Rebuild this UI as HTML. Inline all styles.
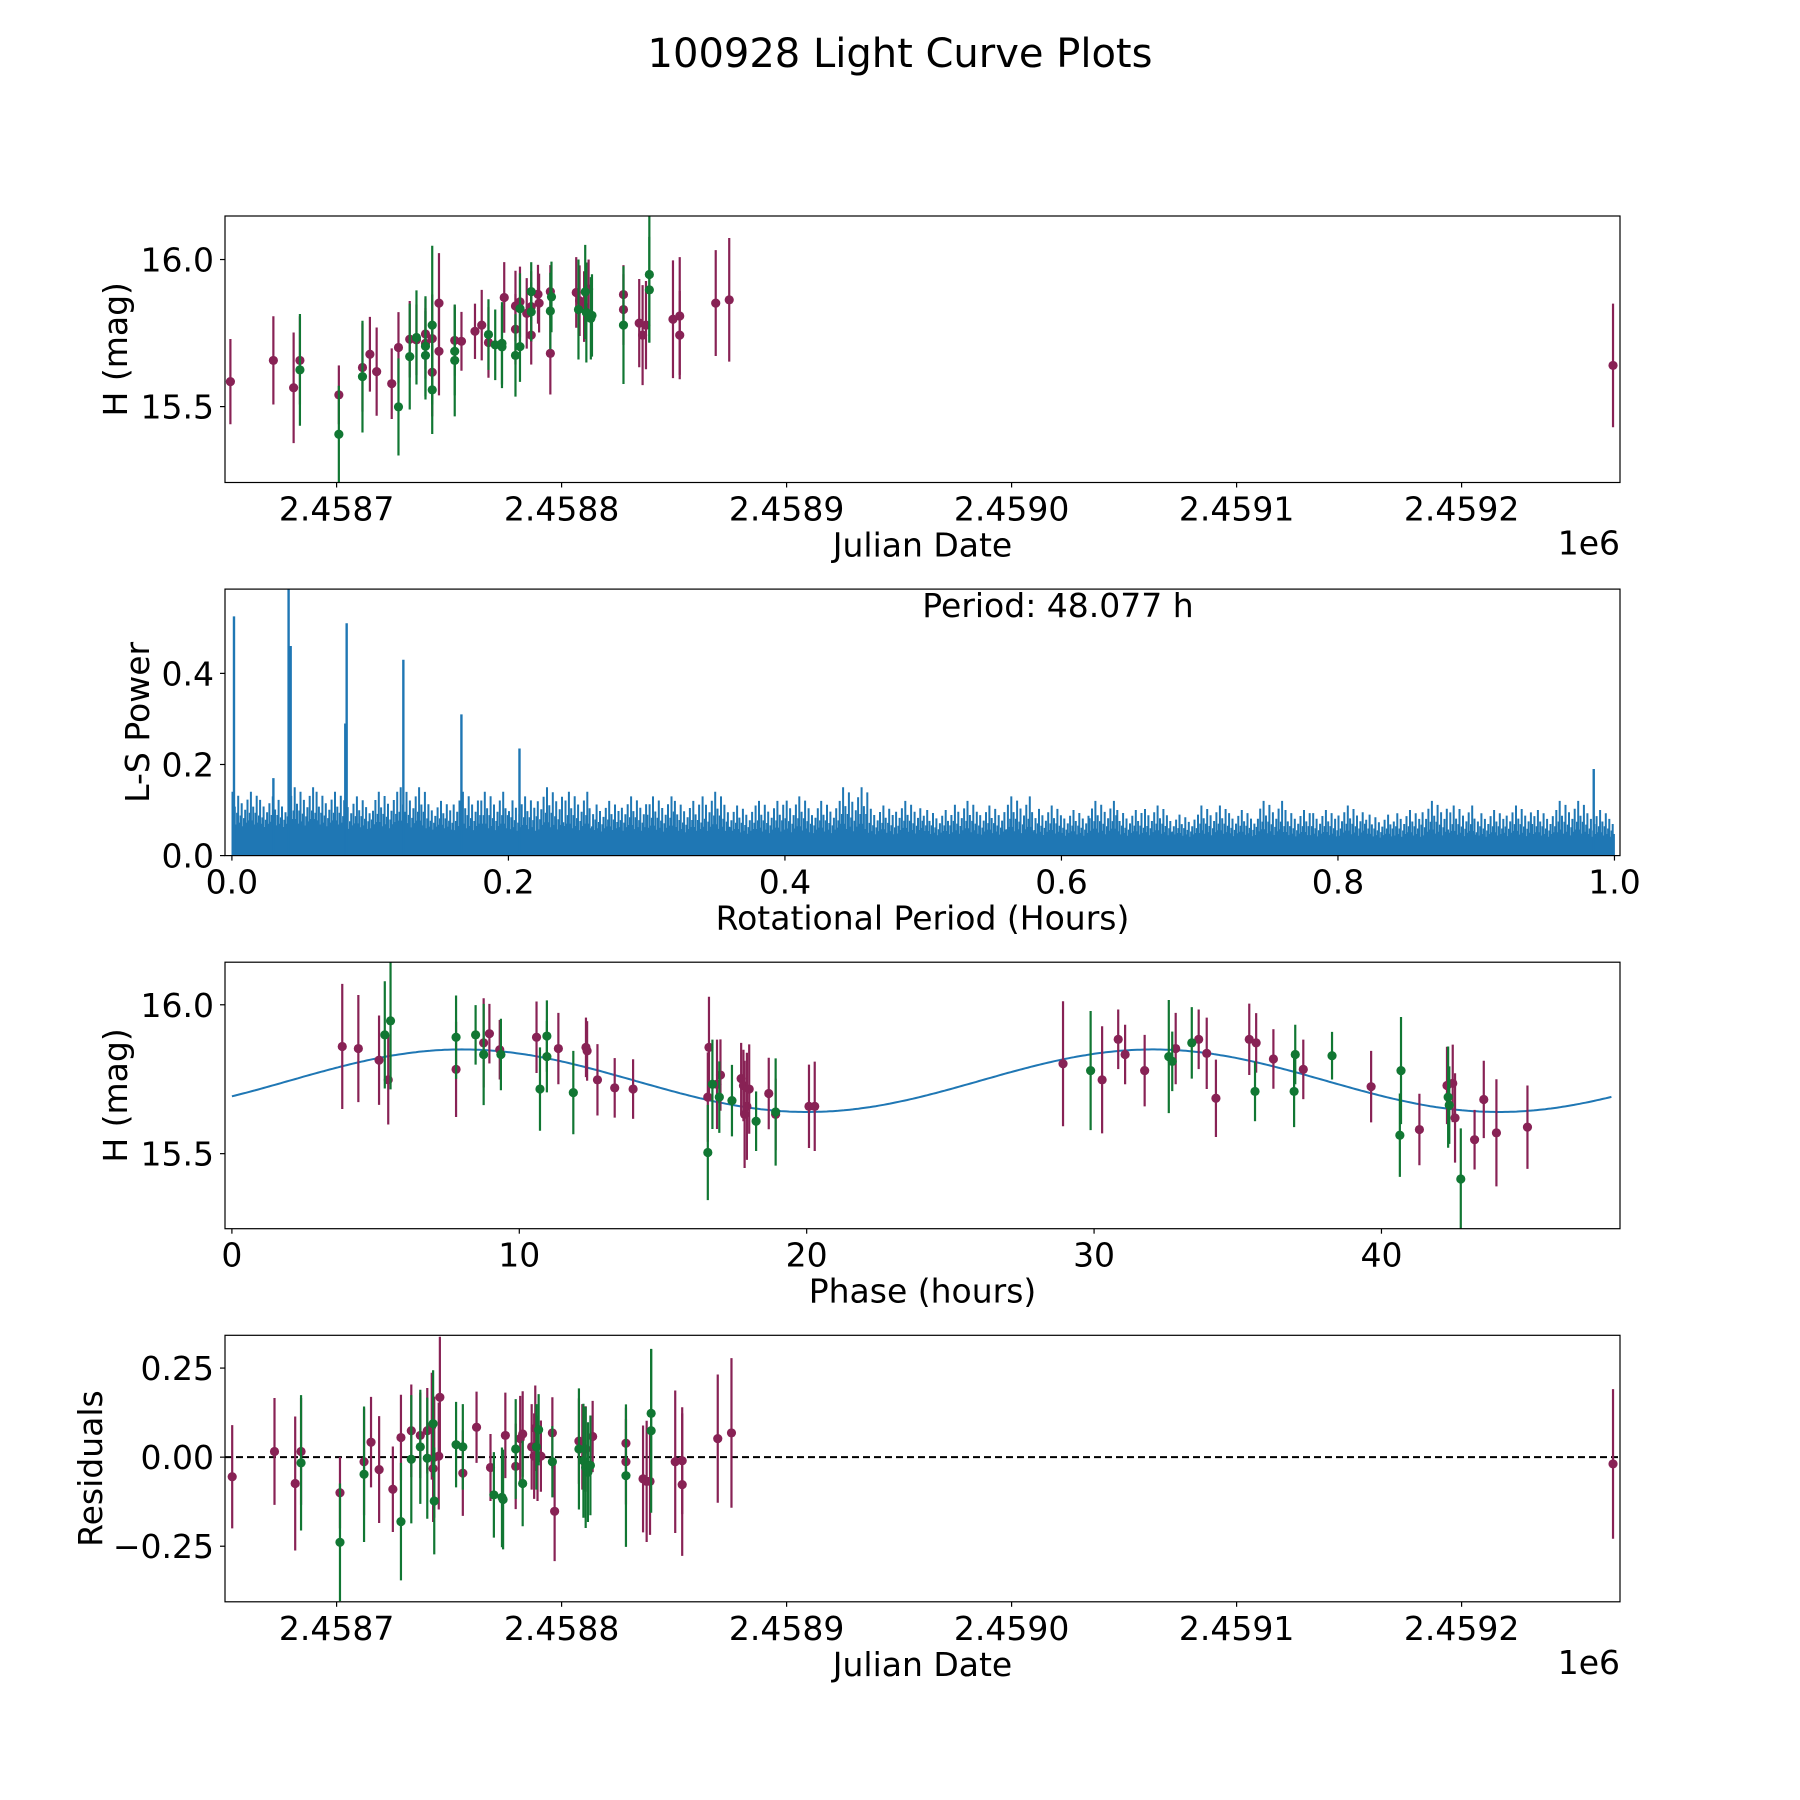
<!DOCTYPE html>
<html><head><meta charset="utf-8"><style>
html,body{margin:0;padding:0;background:#fff}
svg{display:block}
text{font-family:"DejaVu Sans","Liberation Sans",sans-serif;fill:#000}
</style></head><body>
<svg id="fig" width="1800" height="1800" viewBox="0 0 1800 1800" xmlns="http://www.w3.org/2000/svg">
<rect width="1800" height="1800" fill="#fff"/>
<text x="900" y="67" font-size="40" text-anchor="middle">100928 Light Curve Plots</text>
</svg>
<script>
// ---------- Panel 1: light curve (days relative to 2458700) ----------
const lcPurpleDays=[-47.2,-28.1,-19.1,-16.3,1,11.5,14.8,17.8,24.5,27.5,32.5,35.5,39.5,39.5,42.5,42.5,45.5,45.5,52.5,55.5,61.5,64.5,67.5,74.5,79.5,79.5,81.5,84.5,86.5,86.5,89.5,90,95,95,106.5,108,110,112,127.5,127.5,134.5,136,137.5,149.5,152.5,152.5,168.5,174.5,567.3];
const lcPurpleMag=[15.585,15.657,15.564,15.657,15.54,15.633,15.678,15.619,15.578,15.701,15.729,15.727,15.747,15.715,15.731,15.617,15.852,15.688,15.725,15.722,15.756,15.777,15.718,15.871,15.842,15.763,15.856,15.817,15.84,15.743,15.882,15.852,15.891,15.681,15.888,15.86,15.84,15.9,15.881,15.83,15.784,15.743,15.777,15.797,15.808,15.743,15.852,15.863,15.64];
const lcPurpleErr=[0.145,0.15,0.188,0.15,0.1,0.15,0.127,0.15,0.12,0.12,0.13,0.12,0.12,0.12,0.15,0.15,0.17,0.15,0.12,0.1,0.094,0.12,0.12,0.12,0.12,0.12,0.12,0.12,0.12,0.1,0.1,0.1,0.09,0.14,0.12,0.12,0.12,0.1,0.1,0.12,0.15,0.17,0.15,0.2,0.2,0.15,0.18,0.21,0.21];
const lcGreenDays=[-16.3,1,11.5,27.5,32.5,35.5,39.5,39.5,42.5,42.5,52.5,52.5,67.5,70.5,73.5,73.5,79.5,81.5,81.5,86.5,86.5,95,95.5,107.5,110.5,111,113,113.5,127.5,139,139];
const lcGreenMag=[15.625,15.406,15.602,15.499,15.67,15.735,15.705,15.674,15.777,15.557,15.688,15.657,15.745,15.71,15.715,15.703,15.674,15.704,15.833,15.891,15.822,15.825,15.873,15.83,15.89,15.82,15.8,15.81,15.777,15.949,15.897];
const lcGreenErr=[0.19,0.165,0.19,0.165,0.18,0.16,0.17,0.15,0.27,0.15,0.15,0.19,0.12,0.12,0.14,0.14,0.14,0.12,0.12,0.1,0.1,0.13,0.12,0.17,0.16,0.17,0.14,0.14,0.2,0.23,0.18];
const jdTicks=[0,100,200,300,400,500];
const jdTickLabels=["2.4587","2.4588","2.4589","2.4590","2.4591","2.4592"];
const magTicks=[15.5,16.0];
const magTickLabels=["15.5","16.0"];
// ---------- Panel 2: periodogram ----------
const lsPeakPeriods=[0.0015,0.03,0.041,0.0425,0.082,0.083,0.124,0.166,0.208,0.985];
const lsPeakPowers=[0.525,0.17,0.6,0.46,0.29,0.51,0.43,0.31,0.235,0.19];
const lsEnvelope=[0.14,0.13,0.15,0.14,0.13,0.14,0.15,0.12,0.14,0.14,0.13,0.15,0.14,0.12,0.13,0.13,0.12,0.14,0.11,0.12,0.13,0.12,0.15,0.11,0.12,0.10,0.12,0.11,0.13,0.11,0.10,0.12,0.10,0.11,0.09,0.11,0.10,0.12,0.10,0.10,0.11,0.09,0.10,0.12,0.11,0.10,0.11,0.10,0.12,0.10];
const lsBase=[0.05,0.05,0.05,0.05,0.045,0.045,0.045,0.045,0.04,0.04,0.04,0.04,0.04,0.04,0.04,0.038,0.038,0.038,0.036,0.036,0.036,0.036,0.035,0.035,0.035,0.034,0.034,0.034,0.034,0.033,0.033,0.033,0.033,0.032,0.032,0.032,0.032,0.031,0.031,0.031,0.031,0.03,0.03,0.03,0.03,0.03,0.03,0.03,0.03,0.03];
const lsTexture=[1,0.55,0.8,0.45,0.7,0.95,0.5,0.65,0.85,0.4,0.6,0.75,0.5,0.9,0.55,0.7];
const periodTicks=[0,0.2,0.4,0.6,0.8,1.0];
const periodTickLabels=["0.0","0.2","0.4","0.6","0.8","1.0"];
const powerTicks=[0,0.2,0.4];
const powerTickLabels=["0.0","0.2","0.4"];
// ---------- Panel 3: phased ----------
const phPurplePhase=[3.84,4.4,5.12,5.44,7.8,8.76,8.96,9.32,10.6,11.36,12.32,12.36,12.72,13.32,13.96,16.56,16.6,16.88,17.0,17.72,17.8,17.84,17.92,18.0,18.68,18.92,20.08,20.28,28.92,30.28,30.84,31.08,31.76,32.84,33.64,33.92,34.24,35.4,35.64,36.24,37.28,39.64,41.32,42.28,42.48,42.56,43.24,43.56,44.0,45.08];
const phPurpleMag=[15.86,15.853,15.814,15.748,15.783,15.872,15.903,15.849,15.891,15.853,15.857,15.845,15.748,15.721,15.717,15.69,15.857,15.733,15.764,15.752,15.729,15.632,15.659,15.717,15.702,15.632,15.659,15.659,15.802,15.748,15.884,15.833,15.779,15.853,15.884,15.837,15.686,15.884,15.872,15.818,15.783,15.725,15.581,15.729,15.736,15.62,15.547,15.682,15.57,15.589];
const phPurpleErr=[0.21,0.18,0.15,0.15,0.16,0.15,0.1,0.1,0.12,0.12,0.1,0.1,0.12,0.1,0.1,0.15,0.17,0.15,0.12,0.12,0.12,0.18,0.18,0.15,0.12,0.12,0.14,0.15,0.21,0.18,0.1,0.1,0.12,0.12,0.1,0.12,0.13,0.12,0.1,0.1,0.1,0.12,0.12,0.13,0.13,0.15,0.1,0.13,0.18,0.14];
const phGreenPhase=[5.32,5.52,7.8,8.48,8.76,9.36,10.72,10.96,10.96,11.88,16.56,16.72,16.96,17.4,18.24,18.92,29.88,32.6,32.72,33.4,35.6,36.96,37.0,38.28,40.64,40.68,42.32,42.36,42.76];
const phGreenMag=[15.899,15.946,15.891,15.899,15.833,15.833,15.717,15.895,15.826,15.705,15.504,15.733,15.69,15.678,15.609,15.64,15.779,15.826,15.81,15.872,15.709,15.709,15.833,15.829,15.562,15.779,15.69,15.663,15.415];
const phGreenErr=[0.18,0.23,0.14,0.1,0.17,0.12,0.14,0.12,0.12,0.14,0.16,0.15,0.12,0.12,0.1,0.18,0.2,0.19,0.1,0.12,0.1,0.12,0.1,0.08,0.14,0.18,0.17,0.13,0.17];
const fitMean=15.745, fitAmp=0.105, fitPeriod=24.04, fitShift=2;
const phaseTicks=[0,10,20,30,40];
const phaseTickLabels=["0","10","20","30","40"];
// ---------- Panel 4: residuals ----------
const resPurpleDays=[-46.4,-27.6,-18.4,-15.8,1.5,12.2,15.3,18.9,25,28.6,33.2,37.2,40.3,42.3,42.9,43.4,45.9,45.4,56.1,62.2,68.4,75,79.6,81.6,82.7,86.7,87.8,88.3,89.3,90.8,95.9,96.9,107.7,109.2,110.7,113.8,128.6,128.6,136.2,137.8,139.3,150.5,153.6,153.6,169.4,175.5,567.3];
const resPurpleVal=[-0.055,0.016,-0.074,0.016,-0.1,-0.013,0.042,-0.035,-0.09,0.055,0.074,0.061,0.074,0.087,-0.032,0,0.168,0.003,-0.045,0.084,-0.029,0.061,-0.026,0.052,0.065,0.029,0.003,0.081,-0.003,0.003,0.068,-0.152,0.045,0.029,0.023,0.058,0.039,-0.013,-0.061,-0.068,-0.068,-0.013,-0.077,-0.01,0.052,0.068,-0.019];
const resPurpleErr=[0.145,0.15,0.188,0.15,0.1,0.15,0.127,0.15,0.12,0.12,0.13,0.12,0.12,0.15,0.15,0.17,0.17,0.15,0.12,0.1,0.094,0.12,0.12,0.12,0.12,0.12,0.12,0.12,0.12,0.1,0.1,0.14,0.12,0.12,0.12,0.1,0.1,0.12,0.15,0.17,0.15,0.2,0.2,0.15,0.18,0.21,0.21];
const resGreenDays=[-15.8,1.5,12.2,28.6,33.2,37.2,40.3,42.9,43.4,53.1,56.1,69.9,73.5,74,79.6,82.7,88.8,89.8,95.9,107.7,109.7,110.7,111.7,112.8,128.6,139.8,139.8];
const resGreenVal=[-0.016,-0.239,-0.048,-0.181,-0.006,0.029,-0.003,0.094,-0.123,0.035,0.029,-0.106,-0.113,-0.119,0.023,-0.074,0.029,0.077,-0.013,0.023,-0.01,-0.029,-0.042,-0.023,-0.052,0.074,0.123];
const resGreenErr=[0.19,0.165,0.19,0.165,0.18,0.16,0.17,0.15,0.15,0.12,0.12,0.12,0.14,0.14,0.14,0.12,0.12,0.1,0.1,0.17,0.16,0.17,0.14,0.14,0.2,0.23,0.18];
const resTicks=[-0.25,0,0.25];
const resTickLabels=["\u22120.25","0.00","0.25"];

const PURPLE="#882255", GREEN="#117733", BLUE="#1f77b4";
const FS=33;
const svg=document.getElementById('fig');
const NS="http://www.w3.org/2000/svg";
function mk(tag,attrs,parent){const e=document.createElementNS(NS,tag);for(const k in attrs)e.setAttribute(k,attrs[k]);(parent||svg).appendChild(e);return e;}
const L=225,R=1620,H=266.5;
const tops=[216,589.1,962.2,1335.3];

function makeAxes(i,name,xmin,xmax,ymin,ymax){
  const top=tops[i],bot=top+H;
  const g=mk('g',{});
  
  
  const clipId='clip'+i;
  const cp=mk('clipPath',{id:clipId},g);mk('rect',{x:L,y:top,width:R-L,height:H},cp);
  const plot=mk('g',{'clip-path':'url(#'+clipId+')'},g);
  
  
  return {g,plot,top,bot,
    x:v=>L+(v-xmin)/(xmax-xmin)*(R-L),
    y:v=>bot-(v-ymin)/(ymax-ymin)*H};
}
function frame(ax,name,xt,xtl,yt,ytl,xlabel,ylabel,ylabelX){
  const f=mk('rect',{x:L,y:ax.top,width:R-L,height:H,fill:'none',stroke:'#000','stroke-width':1.2},ax.g);
  
  
  xt.forEach((v,k)=>{const X=ax.x(v);
    mk('line',{x1:X,x2:X,y1:ax.bot,y2:ax.bot+5,stroke:'#000','stroke-width':1.2},ax.g);
    const t=mk('text',{x:X,y:ax.bot+38,'font-size':FS,'text-anchor':'middle'},ax.g);t.textContent=xtl[k];
    
    });
  yt.forEach((v,k)=>{const Y=ax.y(v);
    mk('line',{x1:L-5,x2:L,y1:Y,y2:Y,stroke:'#000','stroke-width':1.2},ax.g);
    const t=mk('text',{x:L-11,y:Y+12,'font-size':FS,'text-anchor':'end'},ax.g);t.textContent=ytl[k];
    
    });
  const xl=mk('text',{x:(L+R)/2,y:ax.bot+74,'font-size':FS,'text-anchor':'middle'},ax.g);xl.textContent=xlabel;
  
  
  const cy=ax.top+H/2;
  const yl=mk('text',{x:ylabelX,y:cy,'font-size':FS,'text-anchor':'middle',transform:'rotate(-90 '+ylabelX+' '+cy+')'},ax.g);yl.textContent=ylabel;
  
  
}
function offsetText(ax){const t=mk('text',{x:R,y:ax.bot+72,'font-size':FS,'text-anchor':'end'},ax.g);t.textContent='1e6';
  
  }
function errPoints(ax,xs,ys,es,color,name){
  xs.forEach((xv,k)=>{const X=ax.x(xv);
    const l=mk('line',{x1:X,x2:X,y1:ax.y(ys[k]-es[k]),y2:ax.y(ys[k]+es[k]),stroke:color,'stroke-width':2.2},ax.plot);
    
    
    const c=mk('circle',{cx:X,cy:ax.y(ys[k]),r:4.6,fill:color},ax.plot);
    
    });
}
// Panel 1
const a1=makeAxes(0,'light-curve-panel',-49.6,570.4,15.242,16.148);
errPoints(a1,lcPurpleDays,lcPurpleMag,lcPurpleErr,PURPLE,'purple-band');
errPoints(a1,lcGreenDays,lcGreenMag,lcGreenErr,GREEN,'green-band');
frame(a1,'light-curve-panel',jdTicks,jdTickLabels,magTicks,magTickLabels,'Julian Date','H (mag)',127);
offsetText(a1);
// Panel 2
const a2=makeAxes(1,'periodogram-panel',-0.005,1.004,0,0.585);
(function(){
  const nb=lsEnvelope.length, w=1/nb;
  let d='M'+a2.x(0)+' '+a2.y(0);
  lsBase.forEach((b,k)=>{d+=' L'+a2.x(k*w)+' '+a2.y(b)+' L'+a2.x((k+1)*w)+' '+a2.y(b);});
  d+=' L'+a2.x(1)+' '+a2.y(0)+' Z';
  const base=mk('path',{d:d,fill:BLUE},a2.plot);
  
  
  let sp='';
  const per=24;
  lsEnvelope.forEach((env,k)=>{
    for(let j=0;j<per;j++){
      const p=k*w+(j+0.5)*w/per;
      const f=lsTexture[(j+k*5)%lsTexture.length];
      const h=lsBase[k]+(env-lsBase[k])*f*f;
      sp+='M'+a2.x(p).toFixed(1)+' '+a2.y(0)+' V'+a2.y(h).toFixed(1)+' ';
    }
  });
  const spikes=mk('path',{d:sp,stroke:BLUE,'stroke-width':2,fill:'none'},a2.plot);
  
  
  lsPeakPeriods.forEach((p,k)=>{
    const l=mk('line',{x1:a2.x(p),x2:a2.x(p),y1:a2.y(0),y2:a2.y(lsPeakPowers[k]),stroke:BLUE,'stroke-width':2.4},a2.plot);
    
    
  });
})();
frame(a2,'periodogram-panel',periodTicks,periodTickLabels,powerTicks,powerTickLabels,'Rotational Period (Hours)','L-S Power',149);
const pt=mk('text',{x:1058,y:617,'font-size':FS,'text-anchor':'middle'},a2.g);pt.textContent='Period: 48.077 h';


// Panel 3
const a3=makeAxes(2,'phase-panel',-0.24,48.3,15.248,16.143);
(function(){let d='';for(let k=0;k<=480;k++){const ph=k*0.1;const m=fitMean+fitAmp*Math.sin(2*Math.PI*(ph-fitShift)/fitPeriod);d+=(k?'L':'M')+a3.x(ph).toFixed(1)+' '+a3.y(m).toFixed(1)+' ';}
  const c=mk('path',{d:d,stroke:BLUE,'stroke-width':2,fill:'none'},a3.plot);
  
  })();
errPoints(a3,phPurplePhase,phPurpleMag,phPurpleErr,PURPLE,'purple-band');
errPoints(a3,phGreenPhase,phGreenMag,phGreenErr,GREEN,'green-band');
frame(a3,'phase-panel',phaseTicks,phaseTickLabels,magTicks,magTickLabels,'Phase (hours)','H (mag)',127);
// Panel 4
const a4=makeAxes(3,'residuals-panel',-49.6,570.4,-0.406,0.342);
const zl=mk('line',{x1:L,x2:R,y1:a4.y(0),y2:a4.y(0),stroke:'#000','stroke-width':2,'stroke-dasharray':'7,4'},a4.plot);


errPoints(a4,resPurpleDays,resPurpleVal,resPurpleErr,PURPLE,'purple-band');
errPoints(a4,resGreenDays,resGreenVal,resGreenErr,GREEN,'green-band');
frame(a4,'residuals-panel',jdTicks,jdTickLabels,resTicks,resTickLabels,'Julian Date','Residuals',102);
offsetText(a4);
</script>
</body></html>
